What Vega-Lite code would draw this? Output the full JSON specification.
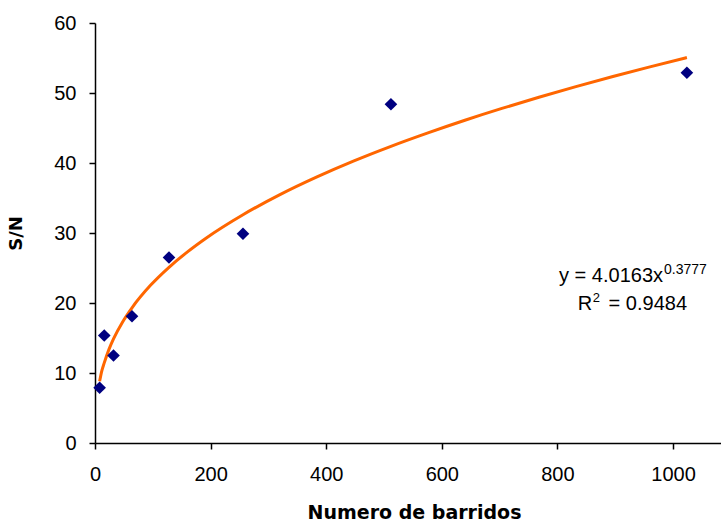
{
  "$schema": "https://vega.github.io/schema/vega-lite/v6.json",
  "autosize": {"type": "none"},
  "padding": {"left": 95, "top": 23, "right": 0, "bottom": 87},
  "width": 626,
  "height": 420,
  "background": "white",
  "config": {"view": {"stroke": null}},
  "datasets": {
    "obs": [
      {"barridos": 8, "sn": 7.9},
      {"barridos": 16, "sn": 15.35},
      {"barridos": 32, "sn": 12.5},
      {"barridos": 64, "sn": 18.1},
      {"barridos": 128, "sn": 26.5},
      {"barridos": 256, "sn": 29.9},
      {"barridos": 512, "sn": 48.4},
      {"barridos": 1024, "sn": 52.9}
    ],
    "fit": [
      {"barridos": 8, "sn": 8.81},
      {"barridos": 12, "sn": 10.37},
      {"barridos": 16, "sn": 11.45},
      {"barridos": 24, "sn": 13.34},
      {"barridos": 32, "sn": 14.87},
      {"barridos": 48, "sn": 17.33},
      {"barridos": 64, "sn": 19.32},
      {"barridos": 96, "sn": 22.52},
      {"barridos": 128, "sn": 25.1},
      {"barridos": 160, "sn": 27.31},
      {"barridos": 192, "sn": 29.26},
      {"barridos": 256, "sn": 32.61},
      {"barridos": 320, "sn": 35.48},
      {"barridos": 384, "sn": 38.01},
      {"barridos": 448, "sn": 40.3},
      {"barridos": 512, "sn": 42.38},
      {"barridos": 576, "sn": 44.3},
      {"barridos": 640, "sn": 46.11},
      {"barridos": 704, "sn": 47.8},
      {"barridos": 768, "sn": 49.39},
      {"barridos": 832, "sn": 50.91},
      {"barridos": 896, "sn": 52.35},
      {"barridos": 960, "sn": 53.73},
      {"barridos": 1024, "sn": 55.06}
    ],
    "labelsRight": [
      {"x": 982.7, "y": 22.96, "t": "y = 4.0163x", "size": 20},
      {"x": 860, "y": 19.0, "t": "R", "size": 20},
      {"x": 1024.2, "y": 19.0, "t": "= 0.9484", "size": 20}
    ],
    "labelsLeft": [
      {"x": 984.5, "y": 24.14, "t": "0.3777", "size": 14},
      {"x": 861, "y": 20.1, "t": "2", "size": 13}
    ]
  },
  "encoding": {
    "x": {
      "field": "barridos", "type": "quantitative",
      "scale": {"domain": [0, 1083], "nice": false},
      "axis": {
        "title": "Numero de barridos",
        "values": [0, 200, 400, 600, 800, 1000],
        "format": "d",
        "grid": false,
        "domainColor": "black", "domainWidth": 1.5,
        "tickColor": "black", "tickWidth": 1.5, "tickSize": 6,
        "labelFont": "Liberation Sans", "labelFontSize": 20, "labelColor": "black",
        "labelPadding": 15, "labelFlush": false,
        "titleFont": "DejaVu Sans", "titleFontSize": 19, "titleFontWeight": "bold", "titleColor": "black",
        "titlePadding": 19, "titleX": 319
      }
    },
    "y": {
      "field": "sn", "type": "quantitative",
      "scale": {"domain": [0, 60], "nice": false},
      "axis": {
        "title": "S/N",
        "values": [0, 10, 20, 30, 40, 50, 60],
        "grid": false,
        "domainColor": "black", "domainWidth": 1.5,
        "tickColor": "black", "tickWidth": 1.5, "tickSize": 6,
        "labelFont": "Liberation Sans", "labelFontSize": 20, "labelColor": "black",
        "labelPadding": 13, "labelFlush": false,
        "titleFont": "DejaVu Sans", "titleFontSize": 18, "titleFontWeight": "bold", "titleColor": "black",
        "titlePadding": 28
      }
    }
  },
  "layer": [
    {
      "data": {"name": "fit"},
      "mark": {"type": "line", "color": "#FF6600", "strokeWidth": 3, "interpolate": "monotone"}
    },
    {
      "data": {"name": "obs"},
      "mark": {"type": "point", "shape": "diamond", "filled": true, "color": "#000080", "size": 160, "opacity": 1}
    },
    {
      "data": {"name": "labelsRight"},
      "mark": {"type": "text", "font": "Liberation Sans", "color": "black", "baseline": "alphabetic", "align": "right"},
      "encoding": {
        "x": {"field": "x", "type": "quantitative"},
        "y": {"field": "y", "type": "quantitative"},
        "text": {"field": "t"},
        "size": {"field": "size", "type": "quantitative", "scale": null}
      }
    },
    {
      "data": {"name": "labelsLeft"},
      "mark": {"type": "text", "font": "Liberation Sans", "color": "black", "baseline": "alphabetic", "align": "left"},
      "encoding": {
        "x": {"field": "x", "type": "quantitative"},
        "y": {"field": "y", "type": "quantitative"},
        "text": {"field": "t"},
        "size": {"field": "size", "type": "quantitative", "scale": null}
      }
    }
  ]
}
